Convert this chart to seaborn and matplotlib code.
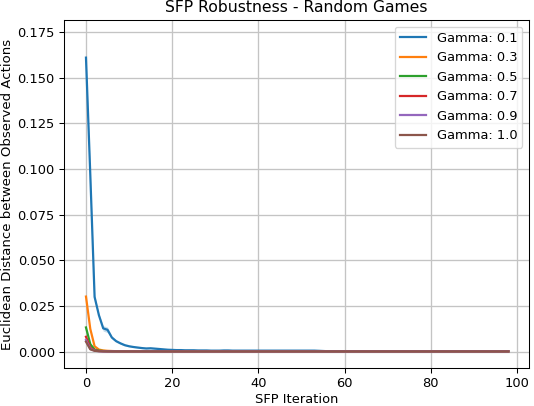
import matplotlib
matplotlib.use("Agg")
import matplotlib.pyplot as plt
import numpy as np
import pandas as pd
import seaborn as sns

# --- DATA ---
ITERATIONS = list(range(99))
GAMMAS = ["0.1", "0.3", "0.5", "0.7", "0.9", "1.0"]

GAMMA_01 = [
    0.161, 0.097, 0.030, 0.020, 0.0128, 0.0120, 0.0078, 0.0058, 0.0046, 0.0036,
    0.0030, 0.0026, 0.0023, 0.0020, 0.0018, 0.0019, 0.0017, 0.0015, 0.0013, 0.0011,
    0.0010, 0.0009, 0.0009, 0.0008, 0.0008, 0.0008, 0.0007, 0.0007, 0.0007, 0.0006,
    0.0006, 0.0006, 0.0007, 0.0007, 0.0006, 0.0006, 0.0006, 0.0006, 0.0006, 0.0006,
    0.0006, 0.0006, 0.0006, 0.0006, 0.0006, 0.0006, 0.0006, 0.0006, 0.0006, 0.0006,
    0.0006, 0.0006, 0.0006, 0.0006, 0.0005, 0.0004, 0.0003, 0.0003, 0.0003, 0.0003,
    0.0003, 0.0003, 0.0003, 0.0003, 0.0003, 0.0003, 0.0003, 0.0003, 0.0003, 0.0003,
    0.0003, 0.0003, 0.0003, 0.0003, 0.0003, 0.0003, 0.0003, 0.0003, 0.0003, 0.0003,
    0.0003, 0.0003, 0.0003, 0.0003, 0.0003, 0.0003, 0.0003, 0.0003, 0.0003, 0.0003,
    0.0003, 0.0003, 0.0003, 0.0003, 0.0003, 0.0003, 0.0003, 0.0003, 0.0003,
]
# spread of the shaded band around the Gamma 0.1 curve
BAND_01 = [
    0.0020, 0.0020, 0.0012, 0.0010, 0.0015, 0.0015, 0.0008, 0.0006, 0.0005, 0.0004,
    0.0003, 0.0003, 0.0003, 0.0003, 0.0003, 0.0003, 0.0003, 0.0003, 0.0003, 0.0003,
]

GAMMA_03_HEAD = [0.0302, 0.0125, 0.0030, 0.0012, 0.0007, 0.0005, 0.0004, 0.0003]
GAMMA_05_HEAD = [0.0133, 0.0042, 0.0012, 0.0006, 0.0004, 0.0003]
GAMMA_07_HEAD = [0.0082, 0.0022, 0.0008, 0.0004, 0.0003]
GAMMA_09_HEAD = [0.0064, 0.0016, 0.0006, 0.0003]
GAMMA_10_HEAD = [0.0055, 0.0013, 0.0005, 0.0003]
TAIL_LEVEL = 0.0002  # flat tail near zero for the higher gammas


def full_series(head):
    return head + [TAIL_LEVEL] * (len(ITERATIONS) - len(head))


series = {
    "0.1": GAMMA_01,
    "0.3": full_series(GAMMA_03_HEAD),
    "0.5": full_series(GAMMA_05_HEAD),
    "0.7": full_series(GAMMA_07_HEAD),
    "0.9": full_series(GAMMA_09_HEAD),
    "1.0": full_series(GAMMA_10_HEAD),
}

rows = []
for g in GAMMAS:
    for it, val in zip(ITERATIONS, series[g]):
        rows.append({"iteration": it, "distance": val, "gamma": f"Gamma: {g}"})
df = pd.DataFrame(rows)

# --- PLOT ---
DPI = 94
fig, ax = plt.subplots(figsize=(534 / DPI, 406 / DPI), dpi=DPI)
palette = sns.color_palette("tab10", len(GAMMAS))

band_x = ITERATIONS[: len(BAND_01)]
band_mid = np.array(GAMMA_01[: len(BAND_01)])
band = np.array(BAND_01)
ax.fill_between(band_x, band_mid - band, band_mid + band, color=palette[0], alpha=0.25, lw=0)

sns.lineplot(data=df, x="iteration", y="distance", hue="gamma", palette=palette, linewidth=1.7, ax=ax)

ax.grid(True, color="#c4c4c4", linewidth=1.0)
ax.set_axisbelow(True)
ax.set_title("SFP Robustness - Random Games")
ax.set_xlabel("SFP Iteration", labelpad=2)
ax.set_ylabel("Euclidean Distance between Observed Actions", fontsize=10.2)
ax.yaxis.set_label_coords(-0.108, 0.5)
ax.set_xlim(-5.1, 102.8)
ax.set_ylim(-0.0089, 0.1816)
ax.legend(loc="upper right")

fig.subplots_adjust(left=64 / 534, right=529 / 534, top=1 - 20 / 406, bottom=1 - 368 / 406)
plt.savefig("out.png", dpi=DPI)
